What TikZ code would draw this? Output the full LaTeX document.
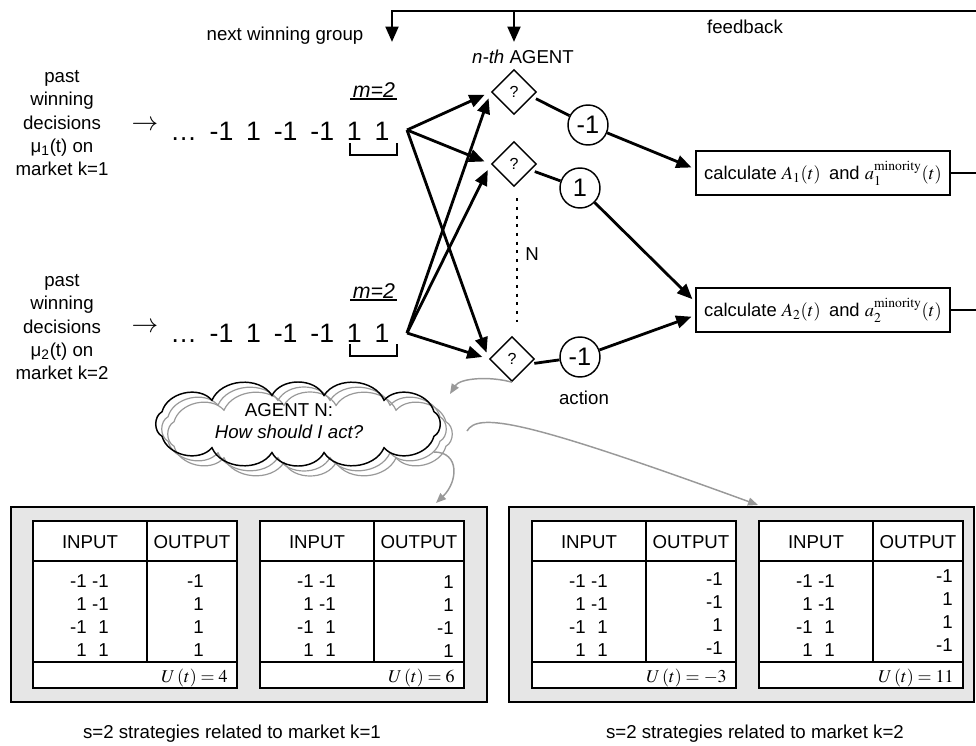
\documentclass[tikz,border=0pt]{standalone}
\usepackage{mathptmx}
\usepackage[no-math]{fontspec}
\setmainfont{Liberation Sans}
\usetikzlibrary{shapes.geometric,arrows.meta}
\definecolor{gr}{HTML}{999999}
\definecolor{panelgray}{HTML}{E6E6E6}
\newcommand\fs[2]{\fontsize{#1}{#2}\selectfont}
\newcommand\gp{\hspace{9.6pt}}
% #1 left x, #2 name, #3-#6 outputs, #7 output right offset, #8 first output baseline, #9 utility
\newcommand\strat[9]{%
  \node[tbl] (#2) at ({#1+102},604.5) {};
  \draw[tline] ({#1},561) -- ({#1+204},561);
  \draw[tline] ({#1},662) -- ({#1+204},662);
  \draw[tline] ({#1+114},521) -- ({#1+114},662);
  \node[cell] (#2-hi) at ({#1+57},542) {INPUT};
  \node[cell] (#2-ho) at ({#1+159},542) {OUTPUT};
  \node[cell,anchor=base east] (#2-a1) at ({#1+54},587) {-1};
  \node[cell,anchor=base east] (#2-b1) at ({#1+76},587) {-1};
  \node[cell,anchor=base east] (#2-a2) at ({#1+54},610) {1};
  \node[cell,anchor=base east] (#2-b2) at ({#1+76},610) {-1};
  \node[cell,anchor=base east] (#2-a3) at ({#1+54},633) {-1};
  \node[cell,anchor=base east] (#2-b3) at ({#1+76},633) {1};
  \node[cell,anchor=base east] (#2-a4) at ({#1+54},656) {1};
  \node[cell,anchor=base east] (#2-b4) at ({#1+76},656) {1};
  \node[cell,anchor=base east] (#2-o1) at ({#1+#7},{#8}) {#3};
  \node[cell,anchor=base east] (#2-o2) at ({#1+#7},{#8+23}) {#4};
  \node[cell,anchor=base east] (#2-o3) at ({#1+#7},{#8+46}) {#5};
  \node[cell,anchor=base east] (#2-o4) at ({#1+#7},{#8+69}) {#6};
  \node[ucell,anchor=base east] (#2-u) at ({#1+195},682) {#9};
}
% puffy cloud outline: #1 style, #2 cx, #3 cy
\newcommand\puffcloud[3]{%
  \draw[#1] ({#2+150*cos(25)},{#3-29*sin(25)})
    \foreach \pa in {55,80,100,125,155,205,235,260,280,305,335,385} {
      to[bend right=62] ({#2+150*cos(\pa)},{#3-29*sin(\pa)}) };
}
\begin{document}
\begin{tikzpicture}[x=0.75pt,y=-0.75pt,
  lbl/.style={font=\fs{14}{17.5}, inner sep=0pt},
  seq/.style={font=\fs{20}{22}, inner sep=0pt},
  mlbl/.style={font=\fs{16}{18}\itshape, inner sep=0pt},
  cell/.style={font=\fs{14}{17}, inner sep=0pt},
  ucell/.style={font=\fs{13.5}{16}, inner sep=0pt},
  thk/.style={line width=2.1pt},
  arr/.style={line width=2.1pt, -{Triangle[length=11.5pt,width=9.5pt]}},
  garr/.style={draw=gr, line width=1.1pt, -{Triangle[length=7.5pt,width=6pt]}},
  dotline/.style={line width=2.2pt, dash pattern=on 2.2pt off 4.3pt},
  qd/.style={diamond, draw, line width=1.1pt, minimum width=33.75pt, minimum height=33.75pt, inner sep=0pt, font=\fs{12}{14}, fill=white},
  act/.style={circle, draw, line width=1.1pt, minimum size=30pt, inner sep=0pt, font=\fs{19}{20}, fill=white},
  calcbox/.style={draw, line width=1.1pt, minimum width=190.5pt, minimum height=33pt, inner sep=0pt, font=\fs{13.8}{16}, fill=white},
  tbl/.style={draw, fill=white, line width=1.2pt, minimum width=153pt, minimum height=125.25pt, inner sep=0pt},
  tline/.style={line width=0.9pt},
  panel/.style={draw, fill=panelgray, line width=1.6pt, minimum width=357pt, minimum height=146.25pt, inner sep=0pt},
  gcloud/.style={draw=gr, line width=0.9pt},
  bcloud/.style={draw=black, line width=1.1pt}
]
\useasboundingbox (0,0) rectangle (976,746);
\clip (0,0) rectangle (976,746);

% ---- strategy panels
\node[panel] (lpanel) at (249,604.5) {};
\node[panel, minimum width=348.75pt] (rpanel) at (741.5,604.5) {};
\strat{33}{ta}{-1}{1}{1}{1}{171}{587}{$U\,(t)=4$}
\strat{260}{tb}{1}{1}{-1}{1}{194}{588}{$U\,(t)=6$}
\strat{532}{tc}{-1}{-1}{1}{-1}{191}{585}{$U\,(t)=-3$}
\strat{759}{td}{-1}{1}{1}{-1}{194}{582}{$U\,(t)=11$}
\node[lbl] (cap1) at (232,734) {s=2 strategies related to market k=1};
\node[lbl] (cap2) at (755,734) {s=2 strategies related to market k=2};

% ---- top labels
\node[lbl] (nwg) at (285,36) {next winning group};
\node[lbl] (fbk) at (745,27) {feedback};
\node[lbl] (nth) at (523,57) {\textit{n-th} AGENT};

% ---- histories
\node[lbl,align=center,anchor=north] (hist1) at (62,70) {past\\winning\\decisions\\μ\textsubscript{1}(t) on\\market k=1};
\node[lbl,align=center,anchor=north] (hist2) at (62,274) {past\\winning\\decisions\\μ\textsubscript{2}(t) on\\market k=2};
\node[seq] (ra1) at (145,126) {$\rightarrow$};
\node[seq] (ra2) at (145,328) {$\rightarrow$};
\node[seq,anchor=base west] (q1) at (170,140) {…\gp-1\gp1\gp-1\gp-1\gp1\gp1};
\node[seq,anchor=base west] (q2) at (170,342) {…\gp-1\gp1\gp-1\gp-1\gp1\gp1};
\node[mlbl] (m1) at (374,90) {m=2};
\node[mlbl] (m2) at (374,291) {m=2};
\draw[thk] (350,99) -- (397,99);
\draw[thk] (350,300) -- (397,300);
\draw[thk, line join=miter] (350,143) |- (397,155) -- (397,143);
\draw[thk, line join=miter] (350,344) |- (397,356) -- (397,344);
\coordinate (s1) at (407,130);
\coordinate (s2) at (407,333);

% ---- agents
\node[qd] (d1) at (514,92) {?};
\node[qd] (d2) at (514,164) {?};
\node[qd] (d3) at (512,359) {?};
\draw[dotline] ([shift={(3,11)}]d2.south) -- ([shift={(5,-14)}]d3.north);
\node[lbl] (nlbl) at (532,254) {N};

\draw[arr, shorten >=5pt] (s1) -- (d1.west);
\draw[arr, shorten >=5pt] (s1) -- (d2.west);
\draw[arr, shorten >=5pt] (s1) -- (d3.west);
\draw[arr, shorten >=5pt] (s2) -- (d1.west);
\draw[arr, shorten >=5pt] (s2) -- (d2.west);
\draw[arr, shorten >=5pt] (s2) -- (d3.west);

\node[act] (c1) at (588,125) {-1};
\node[act] (c2) at (580,188) {1};
\node[act] (c3) at (580,357) {-1};
\node[lbl] (actlbl) at (584,398) {action};
\draw[thk, shorten <=3pt] (d1.-15) -- (c1);
\draw[thk, shorten <=3pt] (d2.-20) -- (c2);
\draw[thk, shorten <=3pt] (d3.-15) -- (c3);

\node[calcbox] (b1) at (823,173) {calculate $A_1(t)$\, and $a_1^{\mathrm{minority}}(t)$};
\node[calcbox] (b2) at (823,310) {calculate $A_2(t)$\, and $a_2^{\mathrm{minority}}(t)$};
\draw[arr, shorten >=3pt] (c1) -- ([yshift=3pt]b1.west);
\draw[arr, shorten >=3pt] (c2) -- ([yshift=6pt]b2.west);
\draw[arr, shorten >=3pt] (c3) -- ([yshift=-4pt]b2.west);

% ---- feedback loop
\coordinate (fbR) at (985,11);
\coordinate (fbL) at (392,11);
\coordinate (fbM) at (514,11);
\coordinate (nwgTip) at (392,42);
\coordinate (nthTip) at (514,42);
\draw[thk] (b1.east) -- (b1.east -| fbR);
\draw[arr, line join=miter] (b2.east) -| (fbR) -- (fbL) -- (nwgTip);
\draw[arr] (fbM) -- (nthTip);

% ---- thought cloud
\puffcloud{gcloud}{310}{434}
\puffcloud{gcloud}{304}{429}
\puffcloud{bcloud}{298}{424}
\node[lbl,align=center,font=\fs{14}{16.5}] (cltxt) at (289,421) {AGENT N:\\\textit{How should I act?}};

\coordinate (g1tip) at (450,394);
\draw[garr] (d3.south) .. controls (490,376) and (460,378) .. (g1tip);
\coordinate (g2s) at (434,452);
\coordinate (g2tip) at (436,503);
\draw[garr] (g2s) .. controls (460,452) and (458,482) .. (g2tip);
\coordinate (g3s) at (467,431);
\coordinate (g3tip) at (758,505);
\draw[garr] (g3s) .. controls (478,412) and (525,420) .. (g3tip);
\end{tikzpicture}
\end{document}
